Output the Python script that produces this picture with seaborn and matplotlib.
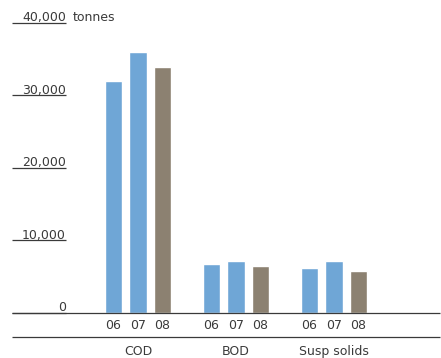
import matplotlib
matplotlib.use("Agg")
import matplotlib.pyplot as plt
import matplotlib.transforms as mtransforms
from matplotlib.lines import Line2D
import pandas as pd
import seaborn as sns

# Emissions to water, tonnes per year
categories = ["COD", "BOD", "Susp solids"]
years = ["06", "07", "08"]
cod = [32000, 36000, 33900]
bod = [6750, 7150, 6450]
susp = [6250, 7150, 5800]
y_ticks = [0, 10000, 20000, 30000, 40000]
y_tick_labels = ["0", "10,000", "20,000", "30,000", "40,000"]
unit_label = "tonnes"

blue = "#6fa6d6"
brown = "#8c8171"
ink = "#3a3a3a"

rows = []
for cat, vals in zip(categories, [cod, bod, susp]):
    for yr, v in zip(years, vals):
        rows.append({"category": cat, "year": yr, "value": v})
df = pd.DataFrame(rows)

sns.set_style("white")
plt.rcParams["font.family"] = ["DejaVu Sans"]

W, H = 441, 358
fig = plt.figure(figsize=(W / 100, H / 100), dpi=100)
ax = fig.add_axes([12 / W, (H - 313) / H, 428 / W, (313 - 22.7) / H])

sns.barplot(data=df, x="category", y="value", hue="year", order=categories,
            hue_order=years, palette={"06": blue, "07": blue, "08": brown},
            width=0.75, gap=0.27, saturation=1, legend=False, ax=ax)

ax.set_ylim(0, 40000)
ax.set_xlim(-1.286, 3.082)
sns.despine(ax=ax, left=True, bottom=True)
ax.set_xlabel("")
ax.set_ylabel("")
ax.set_yticks([])
ax.tick_params(axis="x", length=0, pad=23, labelsize=9, labelcolor=ink)

# Value axis: short rules with labels sitting on them
blend = mtransforms.blended_transform_factory(ax.transAxes, ax.transData)
rule_end = (66 - 12) / 428
for t, lab in zip(y_ticks, y_tick_labels):
    ax.plot([0, rule_end], [t, t], color=ink, lw=0.9, transform=blend,
            clip_on=False, solid_capstyle="butt")
    ax.annotate(lab, xy=(rule_end, t), xycoords=blend, xytext=(0, 1.2),
                textcoords="offset points", ha="right", va="baseline",
                fontsize=9, color=ink, annotation_clip=False)
ax.annotate(unit_label, xy=((73 - 12) / 428, y_ticks[-1]), xycoords=blend,
            xytext=(0, 1.2), textcoords="offset points", ha="left",
            va="baseline", fontsize=9, color=ink, annotation_clip=False)

# Baseline across the whole plot
ax.plot([0, 1], [0, 0], color=ink, lw=0.9, transform=blend, clip_on=False,
        solid_capstyle="butt")

# Year labels under each bar
xblend = mtransforms.blended_transform_factory(ax.transData, ax.transAxes)
bars = sorted(ax.patches, key=lambda p: p.get_x())
labels_in_order = [yr for _ in categories for yr in years]
for p, yr in zip(bars, labels_in_order):
    cx = p.get_x() + p.get_width() / 2
    ax.annotate(yr, xy=(cx, 0), xycoords=xblend, xytext=(0, -9),
                textcoords="offset points", ha="center", va="center",
                fontsize=9, color=ink, annotation_clip=False)

# Rule separating year labels from category names
fig.add_artist(Line2D([12 / W, 440 / W], [(H - 337) / H] * 2, color=ink,
                      lw=0.9, solid_capstyle="butt"))

fig.savefig("out.png", dpi=100)
